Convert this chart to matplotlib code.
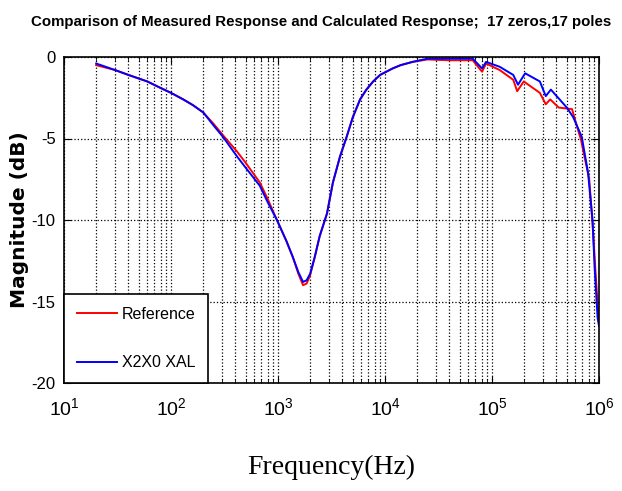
import matplotlib
matplotlib.use('Agg')
import matplotlib.pyplot as plt
import numpy as np
from matplotlib.ticker import LogLocator, NullFormatter

# 周波数 [Hz] と振幅 [dB]
freq_ref = [20, 30, 40, 60, 80, 100, 130, 160, 200, 250, 306, 414, 500, 676, 800, 977,
            1200, 1380, 1550, 1715, 1850, 1995, 2200, 2450, 2870, 3260, 3800, 4380,
            5000, 5850, 6700, 7750, 9000, 11800, 14000, 18100, 25000, 40000, 66000,
            80700, 88000, 118000, 158000, 172000, 198000, 280000, 318000, 350000,
            420000, 560000, 600000, 680000, 810000, 870000, 930000, 990000]
mag_ref = [-0.5, -0.8, -1.1, -1.5, -1.9, -2.2, -2.6, -2.95, -3.4, -4.1, -4.8, -5.8,
           -6.5, -7.7, -8.7, -10.0, -11.3, -12.3, -13.3, -14.0, -13.9, -13.4, -12.3,
           -11.0, -9.6, -7.7, -6.1, -4.9, -3.7, -2.6, -2.0, -1.5, -1.1, -0.7, -0.5,
           -0.3, -0.15, -0.2, -0.2, -0.9, -0.4, -0.8, -1.4, -2.1, -1.5, -2.2, -2.9,
           -2.6, -3.1, -3.2, -3.9, -5.1, -7.5, -10.2, -13.3, -16.0]

freq_fit = [20, 30, 40, 60, 80, 100, 130, 160, 200, 250, 306, 414, 500, 676, 800, 977,
            1200, 1380, 1550, 1715, 1850, 1995, 2200, 2450, 2870, 3260, 3800, 4380,
            5000, 5850, 6700, 7750, 9000, 11800, 14000, 18100, 25000, 40000, 66000,
            80700, 88000, 118000, 158000, 175000, 204000, 280000, 318000, 355000,
            500000, 575000, 690000, 790000, 870000, 910000, 970000, 1000000]
mag_fit = [-0.4, -0.8, -1.1, -1.5, -1.9, -2.2, -2.6, -2.95, -3.4, -4.2, -4.9, -6.1,
           -6.8, -7.9, -8.9, -10.0, -11.3, -12.3, -13.2, -13.8, -13.7, -13.3, -12.3,
           -11.0, -9.6, -7.7, -6.1, -4.9, -3.7, -2.6, -2.0, -1.5, -1.1, -0.7, -0.5,
           -0.3, -0.1, -0.1, -0.1, -0.7, -0.3, -0.6, -1.1, -1.7, -1.0, -1.5, -2.4,
           -2.0, -3.1, -3.7, -4.9, -7.1, -10.0, -12.9, -16.0, -16.5]

sans = ['Liberation Sans', 'DejaVu Sans']

fig = plt.figure(figsize=(6.22, 4.91), dpi=100)
ax = fig.add_axes([64 / 622, 1 - 383 / 491, 535 / 622, 326 / 491])

ax.semilogx(freq_ref, mag_ref, color='#ff0000', lw=1.4, label='Reference')
ax.semilogx(freq_fit, mag_fit, color='#0000ff', lw=1.4, label='X2X0 XAL')

ax.set_xlim(10, 1e6)
ax.set_ylim(-20, 0)
ax.set_yticks([0, -5, -10, -15, -20])
ax.set_yticklabels(['0', '-5', '-10', '-15', '-20'], family=sans, fontsize=12)
ax.xaxis.set_major_locator(LogLocator(base=10, numticks=10))
ax.xaxis.set_minor_locator(LogLocator(base=10, subs=np.arange(2, 10), numticks=20))
ax.xaxis.set_minor_formatter(NullFormatter())
for lab in ax.get_xticklabels():
    lab.set_family(sans)
    lab.set_fontsize(14)

ax.grid(True, which='major', axis='both', color='k', ls=':', lw=0.9)
ax.grid(True, which='minor', axis='x', color='k', ls=':', lw=0.9)
ax.tick_params(which='both', direction='in', top=True, right=True)
ax.tick_params(which='major', length=5)
ax.tick_params(axis='x', which='major', pad=10)
ax.tick_params(axis='y', which='major', pad=6)
ax.tick_params(which='minor', length=3)
for s in ax.spines.values():
    s.set_linewidth(1.2)

ax.set_title('Comparison of Measured Response and Calculated Response;  17 zeros,17 poles',
             family=sans, fontsize=10.8, fontweight='bold', pad=22, x=0.48)
ax.set_ylabel('Magnitude (dB)', family='DejaVu Sans', fontsize=14.5, fontweight='bold', labelpad=2)
ax.set_xlabel('Frequency(Hz)', family='Liberation Serif', fontsize=20, labelpad=26)

leg = ax.legend(loc='lower left', prop={'family': sans, 'size': 11.5},
                fancybox=False, edgecolor='k', framealpha=1, borderaxespad=0,
                handlelength=2.5, handletextpad=0.3, borderpad=0.8, labelspacing=2.1)
leg.get_frame().set_linewidth(1.2)

fig.savefig('out.png', dpi=100)
